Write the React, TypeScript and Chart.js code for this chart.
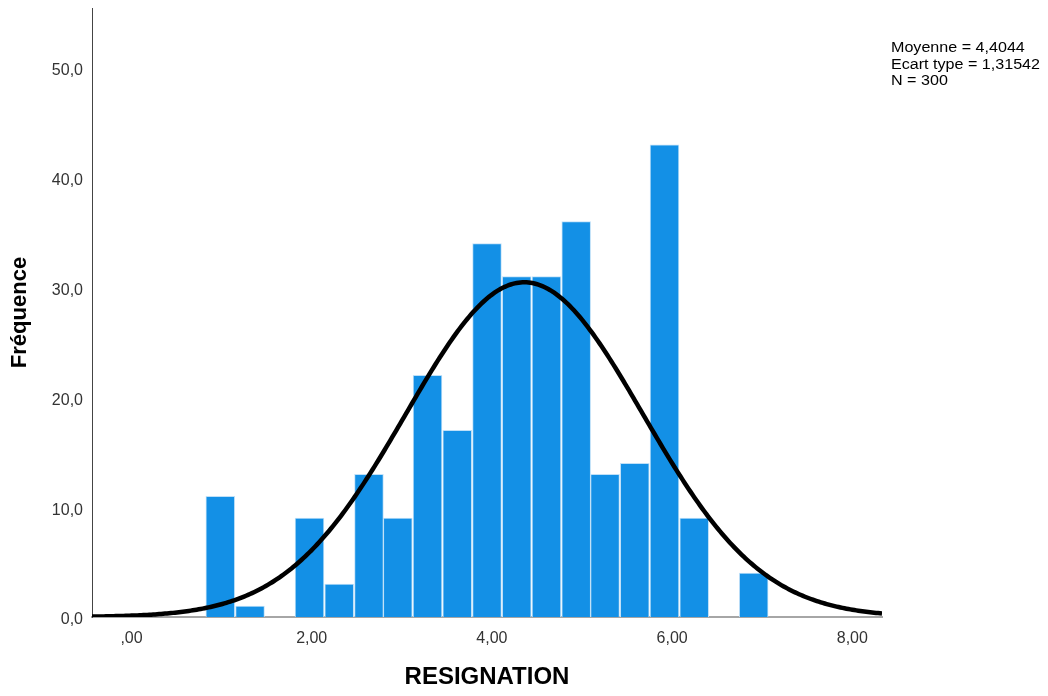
import React, { useEffect, useRef } from "react";
import { Chart, registerables } from "chart.js";

Chart.register(...registerables);

// Histogram bins (centre of each bin on the RESIGNATION scale) and counts
const binCenters = [1.03, 1.36, 1.69, 2.02, 2.35, 2.68, 3.0, 3.33, 3.66, 3.99, 4.32, 4.65, 4.98, 5.3, 5.63, 5.96, 6.29, 6.62, 6.95];
const frequencies = [11, 1, 0, 9, 3, 13, 9, 22, 17, 34, 31, 31, 36, 13, 14, 43, 9, 0, 4];

// Summary statistics shown in the legend box
const meanValue = 4.4044;
const stdDev = 1.31542;
const nObs = 300;
const binWidth = 0.335;
const statLines = ["Moyenne = 4,4044", "Ecart type = 1,31542", "N = 300"];

// Axis settings
const xMin = -0.394;
const xMax = 8.374;
const yMin = 0;
const yMax = 55.46;
const xTitle = "RESIGNATION";
const yTitle = "Fréquence";

function normalCurve() {
  const pts: { x: number; y: number }[] = [];
  const steps = 400;
  for (let i = 0; i <= steps; i++) {
    const x = xMin + ((xMax - xMin) * i) / steps;
    const z = (x - meanValue) / stdDev;
    const y = (nObs * binWidth * Math.exp(-0.5 * z * z)) / (stdDev * Math.sqrt(2 * Math.PI));
    pts.push({ x, y });
  }
  return pts;
}

export default function App() {
  const canvasRef = useRef<HTMLCanvasElement | null>(null);

  useEffect(() => {
    if (!canvasRef.current) return;
    const font = "'Liberation Sans', Arial, sans-serif";
    const chart = new Chart(canvasRef.current, {
      type: "bar",
      data: {
        datasets: [
          {
            type: "line",
            data: normalCurve(),
            borderColor: "#000000",
            borderWidth: 4.5,
            pointRadius: 0,
            tension: 0,
            order: 0,
          } as any,
          {
            type: "bar",
            data: binCenters.map((x, i) => ({ x, y: frequencies[i] })),
            backgroundColor: "#1390e6",
            borderColor: "#bfe0f8",
            borderWidth: 1,
            barPercentage: 1,
            categoryPercentage: 1,
            order: 1,
          } as any,
        ],
      },
      options: {
        responsive: false,
        animation: false,
        layout: { padding: { left: 0, right: 166, top: 8, bottom: 0 } },
        plugins: { legend: { display: false }, tooltip: { enabled: false }, title: { display: false } },
        scales: {
          x: {
            type: "linear",
            min: xMin,
            max: xMax,
            offset: false,
            grid: { display: false, drawTicks: false, offset: false },
            border: { display: true, color: "#a6a6a6", width: 2 },
            afterFit: (s: any) => {
              s.height = 79;
              s.paddingLeft = 0;
              s.paddingRight = 0;
            },
            ticks: {
              stepSize: 2,
              includeBounds: false,
              padding: 12,
              labelOffset: 4,
              color: "#333333",
              font: { family: font, size: 16 },
              callback: (v: any) => (Number(v) === 0 ? ",00" : Number(v).toFixed(2).replace(".", ",")),
            },
            title: {
              display: true,
              text: xTitle,
              color: "#000000",
              font: { family: font, size: 24, weight: "bold" },
              padding: { top: 4, bottom: 4 },
            },
          },
          y: {
            type: "linear",
            min: yMin,
            max: yMax,
            grid: { display: false, drawTicks: false },
            border: { display: true, color: "#444444", width: 1 },
            afterFit: (s: any) => {
              s.width = 92;
              s.paddingTop = 0;
              s.paddingBottom = 0;
            },
            ticks: {
              stepSize: 10,
              includeBounds: false,
              padding: 9,
              labelOffset: 3,
              color: "#333333",
              font: { family: font, size: 16 },
              callback: (v: any) => Number(v).toFixed(1).replace(".", ","),
            },
            title: {
              display: true,
              text: yTitle,
              color: "#000000",
              font: { family: font, size: 22, weight: "bold" },
              padding: { top: 7, bottom: 7 },
            },
          },
        },
      },
    });
    return () => chart.destroy();
  }, []);

  return (
    <div
      style={{
        position: "fixed",
        left: 0,
        top: 0,
        width: 1048,
        height: 696,
        background: "#ffffff",
        overflow: "hidden",
      }}
    >
      <canvas ref={canvasRef} width={1048} height={696} style={{ position: "absolute", left: 0, top: 0 }} />
      <div
        style={{
          position: "absolute",
          left: 891,
          top: 39,
          fontFamily: "'Liberation Sans', Arial, sans-serif",
          fontSize: 14,
          lineHeight: "16.5px",
          color: "#000000",
          whiteSpace: "nowrap",
          transform: "scaleX(1.15)",
          transformOrigin: "left top",
        }}
      >
        {statLines.map((t) => (
          <div key={t}>{t}</div>
        ))}
      </div>
    </div>
  );
}
